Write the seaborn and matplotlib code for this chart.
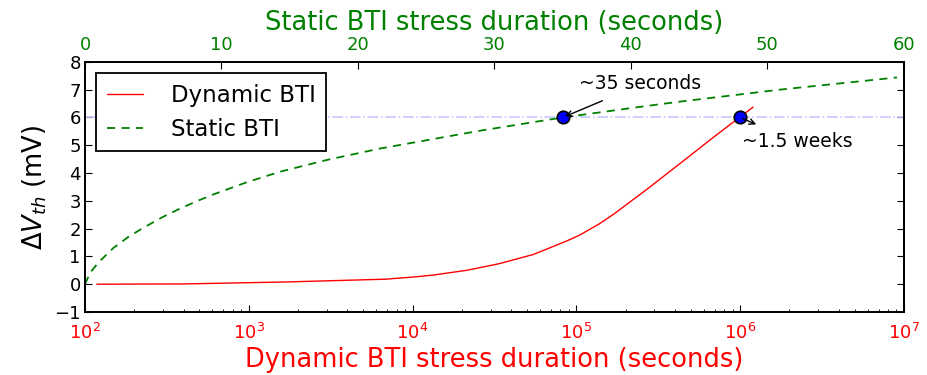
"""Dynamic vs static BTI threshold voltage shift."""
import matplotlib

matplotlib.use("Agg")
import matplotlib.pyplot as plt
from matplotlib.lines import Line2D
import seaborn as sns

sns.set_style("white")
plt.rcParams["font.family"] = ["DejaVu Sans"]
plt.rcParams["mathtext.fontset"] = "dejavusans"
plt.rcParams["text.color"] = "black"
plt.rcParams["axes.labelcolor"] = "black"

# dynamic BTI (bottom log axis, seconds) -> delta Vth (mV)
dyn_t = [118, 400, 1670, 6800, 1.02e4, 1.34e4, 2.14e4, 3.39e4, 5.46e4,
         8.7e4, 1.05e5, 1.38e5, 1.7e5, 2.69e5, 4.27e5, 6.92e5, 1.0e6, 1.2e6]
dyn_v = [0.0, 0.01, 0.08, 0.18, 0.26, 0.33, 0.50, 0.74, 1.07,
         1.55, 1.77, 2.17, 2.53, 3.41, 4.33, 5.30, 6.02, 6.37]

# static BTI (top linear axis, seconds) -> delta Vth (mV)
sta_t = [0, 0.37, 0.98, 2.07, 3.17, 4.27, 5.74, 6.96, 8.3, 9.4, 11.8, 14.3,
         17.8, 21.6, 28.9, 35.0, 41.1, 43.6, 50.9, 59.5]
sta_v = [0.0, 0.41, 0.78, 1.30, 1.70, 2.03, 2.43, 2.72, 3.01, 3.23, 3.66, 4.05,
         4.48, 4.88, 5.52, 6.00, 6.41, 6.57, 7.00, 7.44]

target_v = 6
mark_sta_t = [35]
mark_dyn_t = [1.0e6]

RED = "#ff0000"
GREEN = "#008000"

fig, ax = plt.subplots(figsize=(9.28, 3.75), dpi=100)
fig.subplots_adjust(left=0.0916, right=0.974, bottom=0.168, top=0.835)
ax2 = ax.twiny()

ax.axhline(target_v, color="#c8c8ff", lw=1.2, linestyle="-.")

sns.lineplot(x=dyn_t, y=dyn_v, ax=ax, color=RED, lw=1.0, legend=False)
ax.set_xscale("log")
ax.set_xlim(1e2, 1e7)
ax.set_ylim(-1, 8)
ax.set_yticks(range(-1, 9))

sns.lineplot(x=sta_t, y=sta_v, ax=ax2, color=GREEN, lw=1.3, legend=False)
ax2.lines[-1].set_dashes([4.5, 3.5])
ax2.set_xlim(0, 60)
ax2.set_ylim(-1, 8)

ax2.plot(mark_sta_t, [target_v], "o", ms=9, mfc="#0000ff", mec="black", mew=1.2)
ax.plot(mark_dyn_t, [target_v], "o", ms=9, mfc="#0000ff", mec="black", mew=1.2)

# annotations
ax2.annotate("", xy=(mark_sta_t[0], target_v), xytext=(38.1, 6.64),
             arrowprops=dict(arrowstyle="->", color="black", lw=1.0))
ax2.text(36.2, 7.03, "~35 seconds", fontsize=13.5, va="baseline")
ax.annotate("", xy=(1.30e6, 5.71), xytext=(mark_dyn_t[0], target_v),
            arrowprops=dict(arrowstyle="->", color="black", lw=1.0))
ax.text(1.03e6, 4.95, "~1.5 weeks", fontsize=13.5, va="baseline")

# axes styling
for a in (ax, ax2):
    for sp in a.spines.values():
        sp.set_linewidth(1.3)
        sp.set_color("black")

ax.tick_params(axis="x", which="both", direction="in", bottom=True, top=False,
               colors="black", labelcolor=RED, labelsize=13, pad=8)
ax.tick_params(axis="x", which="major", length=5, width=0.8)
ax.tick_params(axis="x", which="minor", length=2.5, width=0.6)
ax.tick_params(axis="y", which="major", direction="in", left=True, right=True,
               length=5, width=0.8, labelsize=13, pad=3, colors="black")
ax2.tick_params(axis="x", which="major", direction="in", top=True, bottom=False,
                length=5, width=0.8, colors="black", labelcolor=GREEN,
                labelsize=13, pad=6)
ax2.set_xticks(range(0, 61, 10))
ax2.tick_params(axis="y", which="both", left=False, right=False,
                labelleft=False, labelright=False)

ax.set_xlabel("Dynamic BTI stress duration (seconds)", color=RED, fontsize=18.5,
              labelpad=3)
ax2.set_xlabel("Static BTI stress duration (seconds)", color=GREEN, fontsize=18.5)
ax.set_ylabel(r"$\Delta V_{th}$ (mV)", fontsize=18.5)

handles = [
    Line2D([], [], color=RED, lw=1.0),
    Line2D([], [], color=GREEN, lw=1.3, dashes=[4.5, 3.5]),
]
leg = ax2.legend(handles, ["Dynamic BTI", "Static BTI"], loc="upper left",
                 fontsize=16.5, frameon=True, fancybox=False, handlelength=1.6,
                 handletextpad=1.2, borderpad=0.45, borderaxespad=0.5)
leg.get_frame().set_edgecolor("black")
leg.get_frame().set_linewidth(1.3)
leg.get_frame().set_alpha(1)

fig.savefig("out.png", dpi=100)
